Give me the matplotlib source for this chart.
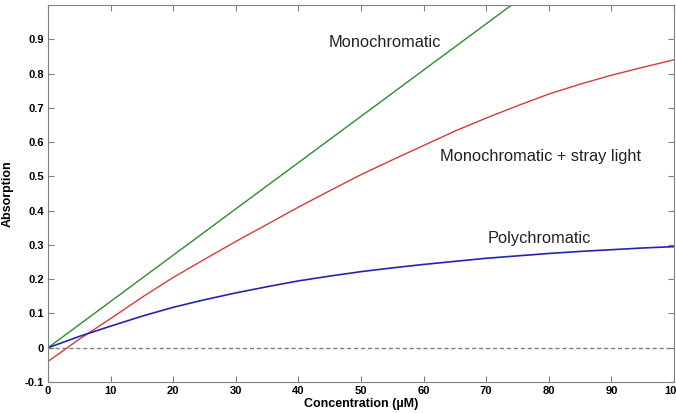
import matplotlib
matplotlib.use("Agg")
import matplotlib.pyplot as plt
import numpy as np

plt.rcParams['font.family'] = ['Liberation Sans', 'DejaVu Sans']

conc = [0, 5, 10, 15, 20, 25, 30, 35, 40, 45, 50, 55, 60, 65, 70, 75, 80, 85, 90, 95, 100]
mono = [0.0, 0.0675, 0.135, 0.2025, 0.27, 0.3375, 0.405, 0.4725, 0.54, 0.6075, 0.675,
        0.7425, 0.81, 0.8775, 0.945, 1.0125, 1.08, 1.1475, 1.215, 1.2825, 1.35]
stray = [-0.04, 0.025, 0.085, 0.147, 0.205, 0.258, 0.31, 0.36, 0.41, 0.458, 0.505,
         0.548, 0.59, 0.632, 0.67, 0.706, 0.74, 0.769, 0.795, 0.818, 0.84]
poly = [0.0, 0.033, 0.063, 0.092, 0.118, 0.14, 0.16, 0.178, 0.195, 0.209, 0.222,
        0.233, 0.243, 0.252, 0.261, 0.268, 0.275, 0.281, 0.286, 0.291, 0.295]

xticks = [0, 10, 20, 30, 40, 50, 60, 70, 80, 90, 100]
yticks = [-0.1, 0, 0.1, 0.2, 0.3, 0.4, 0.5, 0.6, 0.7, 0.8, 0.9]
ylabels = ["-0.1", "0", "0.1", "0.2", "0.3", "0.4", "0.5", "0.6", "0.7", "0.8", "0.9"]

fig = plt.figure(figsize=(6.76, 4.13), dpi=100)
ax = fig.add_axes([0.071, 0.075, 0.926, 0.913])

ax.axhline(0, color='#808080', linestyle='--', linewidth=1.0, dashes=(3, 2))
ax.plot(conc, mono, color='#2e8b2e', linewidth=1.0)
ax.plot(conc, stray, color='#d83a3a', linewidth=1.0)
ax.plot(conc, poly, color='#2424b4', linewidth=1.2)

ax.text(44.8, 0.89, "Monochromatic", fontsize=11.8, ha='left', va='center', color='#222222')
ax.text(62.7, 0.557, "Monochromatic + stray light", fontsize=11.8, ha='left', va='center', color='#222222')
ax.text(70.2, 0.318, "Polychromatic", fontsize=11.8, ha='left', va='center', color='#222222')

ax.set_xlim(0, 100)
ax.set_ylim(-0.1, 1.0)
ax.set_xticks(xticks)
ax.set_yticks(yticks)
ax.set_xticklabels([str(t) for t in xticks], fontweight='bold', fontsize=8)
ax.set_yticklabels(ylabels, fontweight='bold', fontsize=8)
ax.tick_params(direction='in', top=True, right=True, length=4, color='#808080', pad=3)
for s in ax.spines.values():
    s.set_color('#808080')

ax.set_xlabel("Concentration (µM)", fontweight='bold', fontsize=9, labelpad=1)
ax.set_ylabel("Absorption", fontweight='bold', fontsize=9, labelpad=8)

fig.savefig("out.png", dpi=100)
